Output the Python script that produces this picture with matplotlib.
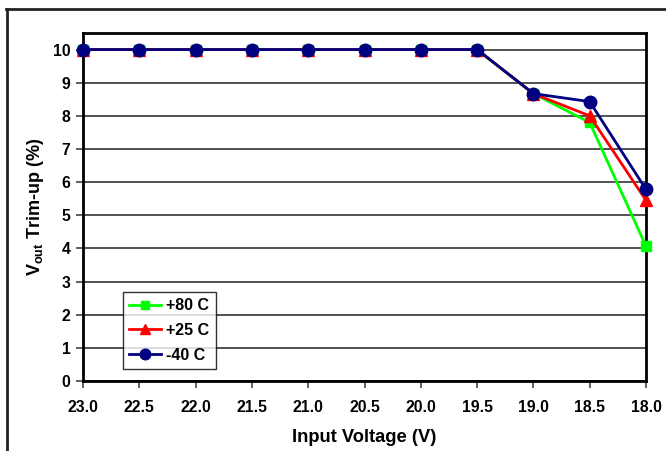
import matplotlib
matplotlib.use("Agg")
import matplotlib.pyplot as plt
from matplotlib.lines import Line2D

plt.rcParams['font.family'] = ['Liberation Sans', 'DejaVu Sans']
plt.rcParams['mathtext.fontset'] = 'custom'
plt.rcParams['mathtext.rm'] = 'Liberation Sans:bold'
plt.rcParams['mathtext.bf'] = 'Liberation Sans:bold'

voltage = [23.0, 22.5, 22.0, 21.5, 21.0, 20.5, 20.0, 19.5, 19.0, 18.5, 18.0]
trim_p80 = [10, 10, 10, 10, 10, 10, 10, 10, 8.67, 7.8, 4.07]
trim_p25 = [10, 10, 10, 10, 10, 10, 10, 10, 8.67, 8.0, 5.45]
trim_m40 = [10, 10, 10, 10, 10, 10, 10, 10, 8.67, 8.43, 5.78]
x_ticks = [23.0, 22.5, 22.0, 21.5, 21.0, 20.5, 20.0, 19.5, 19.0, 18.5, 18.0]
y_ticks = list(range(0, 11))

W, H = 666, 451
fig = plt.figure(figsize=(W/100, H/100), dpi=100)
ax = fig.add_axes([83/W, 1 - 381/H, (646-83)/W, (381-33)/H])

ax.grid(axis='y', color='#333333', linewidth=1.2, zorder=0)
ax.set_axisbelow(True)

ax.plot(voltage, trim_p80, color='#00FF00', marker='s', markersize=7, linewidth=2, label='+80 C', zorder=3, clip_on=False)
ax.plot(voltage, trim_p25, color='#FF0000', marker='^', markersize=8, linewidth=2, label='+25 C', zorder=4, clip_on=False)
ax.plot(voltage, trim_m40, color='#000080', marker='o', markersize=9, linewidth=2, label='-40 C', zorder=5, clip_on=False)

ax.set_xlim(23.0, 18.0)
ax.set_ylim(0, 10.5)
ax.set_xticks(x_ticks)
ax.set_xticklabels([f"{v:.1f}" for v in x_ticks])
ax.set_yticks(y_ticks)
ax.tick_params(direction='out', length=5, width=1.2, color='#444444', labelsize=11.3, pad=4)
ax.tick_params(axis='x', pad=9)
for lbl in ax.get_xticklabels() + ax.get_yticklabels():
    lbl.set_fontweight('bold')
for s in ax.spines.values():
    s.set_linewidth(2)
    s.set_color('black')
    s.set_zorder(2)

ax.set_xlabel('Input Voltage (V)', fontsize=13.2, fontweight='bold', labelpad=10)
ax.set_ylabel(r'V$_{\mathbf{out}}$ Trim-up (%)', fontsize=13, fontweight='bold', labelpad=5)

leg = ax.legend(loc='upper left', bbox_to_anchor=((123-83)/(646-83), (381-292)/(381-33)),
                frameon=True, fancybox=False, edgecolor='black',
                prop={'weight': 'bold', 'size': 11.5}, handlelength=2.0, borderpad=0.4,
                labelspacing=0.6, handletextpad=0.3, borderaxespad=0, markerscale=0.85)
leg.get_frame().set_linewidth(1)
leg.set_zorder(6)

fig.add_artist(Line2D([7/W, 7/W], [0, 1 - 9/H], transform=fig.transFigure, color='#222222', linewidth=2))
fig.add_artist(Line2D([6/W, 1], [1 - 9/H, 1 - 9/H], transform=fig.transFigure, color='#222222', linewidth=2))

fig.savefig('out.png', dpi=100)
